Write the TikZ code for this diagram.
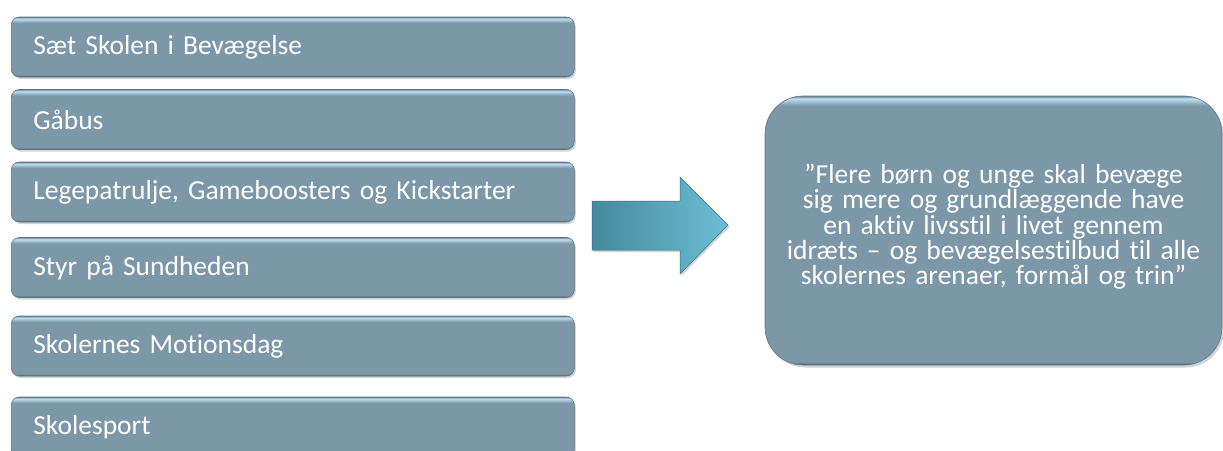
\documentclass[tikz,border=0pt]{standalone}
\usepackage{fontspec}
\setmainfont{Carlito}[Ligatures=NoCommon,WordSpace=0.85]
\usetikzlibrary{positioning,shadows}

\definecolor{boxfill}{RGB}{123,151,168}
\definecolor{boxlight}{RGB}{190,224,242}
\definecolor{boxdark}{RGB}{76,96,110}
\definecolor{arrowdark}{RGB}{68,138,158}
\definecolor{arrowlight}{RGB}{108,190,212}

% bottom to top: dark edge, flat fill, light rim at the top
\pgfdeclareverticalshading{rowshade}{100bp}{color(0bp)=(boxdark); color(25bp)=(boxdark); color(27bp)=(boxfill); color(70bp)=(boxfill); color(73.6bp)=(boxlight); color(75bp)=(boxfill!85!black); color(100bp)=(boxfill!85!black)}
\pgfdeclareverticalshading{goalshade}{100bp}{color(0bp)=(boxdark); color(25bp)=(boxdark); color(25.6bp)=(boxfill); color(73.2bp)=(boxfill); color(74.5bp)=(boxlight); color(75bp)=(boxfill!85!black); color(100bp)=(boxfill!85!black)}

\begin{document}
\begin{tikzpicture}[x=1pt,y=-1pt,
    rowbox/.style={rounded corners=8pt,shading=rowshade,draw=boxdark!60!boxfill,line width=0.6pt,
        drop shadow={shadow xshift=1.5pt,shadow yshift=-2pt,opacity=0.35},
        minimum height=60pt,text width=519pt,inner xsep=22pt,inner ysep=0pt,align=left,anchor=west,
        text=white,font=\fontsize{27.5}{30}\selectfont},
    goalbox/.style={rounded corners=38pt,shading=goalshade,draw=boxdark!60!boxfill,line width=0.6pt,
        drop shadow={shadow xshift=2pt,shadow yshift=-2.5pt,opacity=0.35},
        minimum width=457pt,minimum height=269pt,text width=430pt,text depth=113pt,align=center,
        text=white,font=\fontsize{27.5}{25.3}\selectfont}]
        \useasboundingbox (0,0) rectangle (1223,450);
        \foreach \txt/\y [count=\i] in {S\ae t Skolen i Bevægelse/47,Gåbus/119.5,{Legepatrulje, Gameboosters og Kickstarter}/192,Styr på Sundheden/267.5,Skolernes Motionsdag/346,Skolesport/427}
            \node[rowbox] (row\i) at (11,\y) {\txt};
        \node[goalbox] (goal) at (993.5,230.5) {”Flere børn og unge skal bevæge\\sig mere og grundlæggende have\\en aktiv livsstil i livet gennem\\idræts – og bevægelsestilbud til alle\\skolernes arenaer, formål og trin”};
        \draw [left color=arrowdark,right color=arrowlight,draw=arrowdark!80!black,line width=0.5pt,
            drop shadow={shadow xshift=1.5pt,shadow yshift=-2pt,opacity=0.35}]
            (592,201) -- (680,201) -- (680,177) -- (728,225) -- (680,274) -- (680,250) -- (592,250) -- cycle;
    \end{tikzpicture}
\end{document}
